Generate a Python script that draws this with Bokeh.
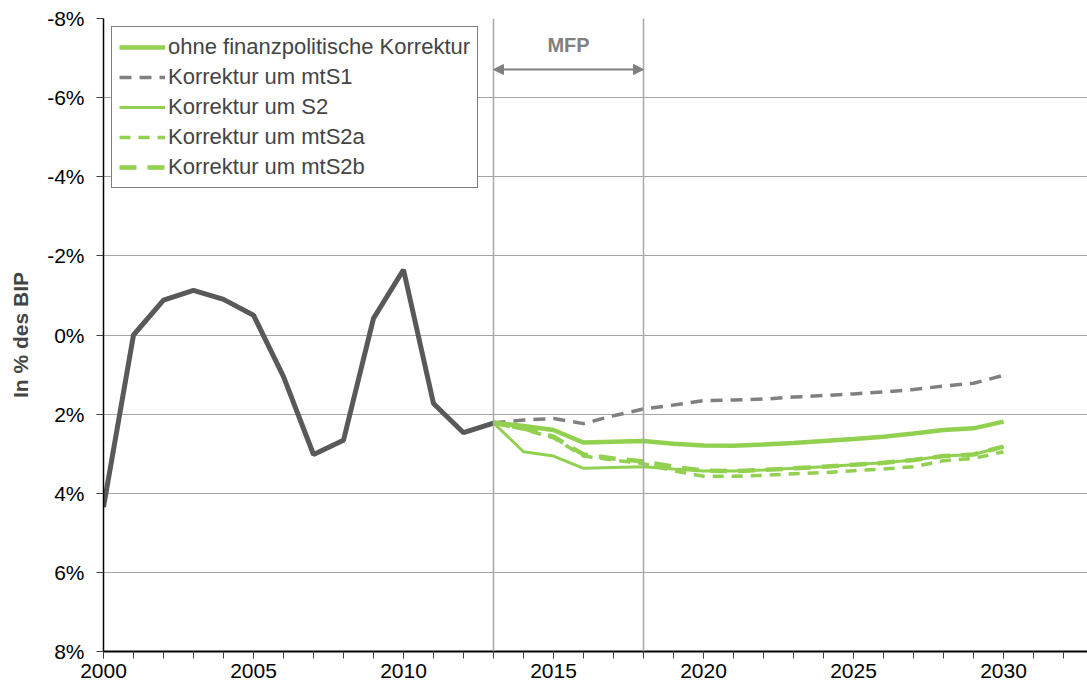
from bokeh.plotting import figure
from bokeh.models import (Range1d, FixedTicker, SingleIntervalTicker, PrintfTickFormatter,
                          Span, Arrow, NormalHead, Label, Legend, LegendItem)
from bokeh.embed import file_html
from bokeh.resources import INLINE

# ---------------- data ----------------
years_hist = list(range(2000, 2014))
hist = [4.35, 0.0, -0.88, -1.13, -0.9, -0.5, 1.05, 3.02, 2.66, -0.42, -1.65, 1.73, 2.47, 2.23]

years_proj = list(range(2013, 2031))
ohne = [2.22, 2.30, 2.40, 2.72, 2.70, 2.68, 2.75, 2.79, 2.80, 2.77, 2.73, 2.68, 2.63, 2.57, 2.49, 2.40, 2.36, 2.19]
mtS1 = [2.22, 2.15, 2.11, 2.24, 2.04, 1.87, 1.77, 1.66, 1.64, 1.62, 1.57, 1.53, 1.49, 1.44, 1.38, 1.29, 1.22, 1.02]
S2 = [2.22, 2.95, 3.06, 3.37, 3.35, 3.33, 3.39, 3.44, 3.44, 3.41, 3.37, 3.33, 3.28, 3.23, 3.16, 3.06, 3.02, 2.82]
mtS2a = [2.22, 2.38, 2.60, 3.06, 3.16, 3.25, 3.43, 3.57, 3.57, 3.55, 3.51, 3.48, 3.43, 3.39, 3.33, 3.18, 3.12, 2.95]
mtS2b = [2.22, 2.36, 2.57, 3.02, 3.12, 3.20, 3.33, 3.43, 3.44, 3.41, 3.37, 3.33, 3.28, 3.23, 3.16, 3.06, 3.02, 2.82]

legend_labels = ["ohne finanzpolitische Korrektur", "Korrektur um mtS1", "Korrektur um S2",
                 "Korrektur um mtS2a", "Korrektur um mtS2b"]
y_ticks = [-8, -6, -4, -2, 0, 2, 4, 6, 8]
mfp_start, mfp_end = 2013, 2018
mfp_label = "MFP"
y_label = "In % des BIP"

GREEN = "#92d050"
DARK = "#595959"
GREY = "#808080"
FONT = "Liberation Sans"

p = figure(width=1087, height=690, output_backend="svg", toolbar_location=None,
           x_range=Range1d(2000, 2032.8), y_range=Range1d(8, -8),
           min_border_left=103, min_border_right=0, min_border_top=18, min_border_bottom=39)
p.outline_line_color = None
p.background_fill_color = "white"

# axes
p.xaxis.ticker = SingleIntervalTicker(interval=5, num_minor_ticks=5)
p.yaxis.ticker = FixedTicker(ticks=y_ticks)
p.yaxis.formatter = PrintfTickFormatter(format="%d%%")
for ax in (p.xaxis, p.yaxis):
    ax.major_label_text_font = FONT
    ax.major_label_text_font_size = "21px"
    ax.major_label_text_color = "black"
    ax.axis_line_color = "black"
    ax.major_tick_in = 0
    ax.major_tick_out = 7
    ax.minor_tick_in = 0
    ax.minor_tick_out = 7
    ax.major_tick_line_color = "#404040"
    ax.minor_tick_line_color = "#404040"
p.xaxis.axis_line_width = 2
p.yaxis.axis_line_width = 1.5
p.yaxis.minor_tick_line_color = None
p.xaxis.major_label_standoff = 5
p.yaxis.major_label_standoff = 12
p.yaxis.axis_label = y_label
p.yaxis.axis_label_text_font = FONT
p.yaxis.axis_label_text_font_size = "21px"
p.yaxis.axis_label_text_font_style = "bold"
p.yaxis.axis_label_standoff = 12

p.xgrid.grid_line_color = None
p.ygrid.grid_line_color = "#a6a6a6"
p.ygrid.grid_line_width = 1

# MFP markers
for loc in (mfp_start, mfp_end):
    p.add_layout(Span(location=loc, dimension="height", line_color="#a6a6a6", line_width=1.5))
p.add_layout(Arrow(x_start=mfp_start, x_end=mfp_end, y_start=-6.71, y_end=-6.71,
                   line_color=GREY, line_width=2,
                   start=NormalHead(size=10, fill_color=GREY, line_color=GREY),
                   end=NormalHead(size=10, fill_color=GREY, line_color=GREY)))
p.add_layout(Label(x=(mfp_start + mfp_end) / 2, y=-7.34, text=mfp_label, text_align="center",
                   text_baseline="middle", text_font=FONT, text_font_size="20px",
                   text_font_style="bold", text_color=GREY))

# lines
r_s1 = p.line(years_proj, mtS1, line_color=GREY, line_width=3.5, line_dash="12 8")
r_s2a = p.line(years_proj, mtS2a, line_color=GREEN, line_width=3.5, line_dash="11 8")
r_s2 = p.line(years_proj, S2, line_color=GREEN, line_width=3)
r_s2b = p.line(years_proj, mtS2b, line_color=GREEN, line_width=4.5, line_dash="17 11")
r_ohne = p.line(years_proj, ohne, line_color=GREEN, line_width=4.5)
p.line(years_hist, hist, line_color=DARK, line_width=5)

legend = Legend(items=[LegendItem(label=legend_labels[0], renderers=[r_ohne]),
                       LegendItem(label=legend_labels[1], renderers=[r_s1]),
                       LegendItem(label=legend_labels[2], renderers=[r_s2]),
                       LegendItem(label=legend_labels[3], renderers=[r_s2a]),
                       LegendItem(label=legend_labels[4], renderers=[r_s2b])],
                location="top_left", margin=8, padding=7, spacing=4,
                glyph_width=46, glyph_height=20, label_height=20, label_standoff=3,
                label_text_font=FONT, label_text_font_size="22px",
                border_line_color="black", border_line_width=1.2,
                background_fill_alpha=1.0)
p.add_layout(legend)

open("out.html", "w").write(file_html(p, INLINE))
